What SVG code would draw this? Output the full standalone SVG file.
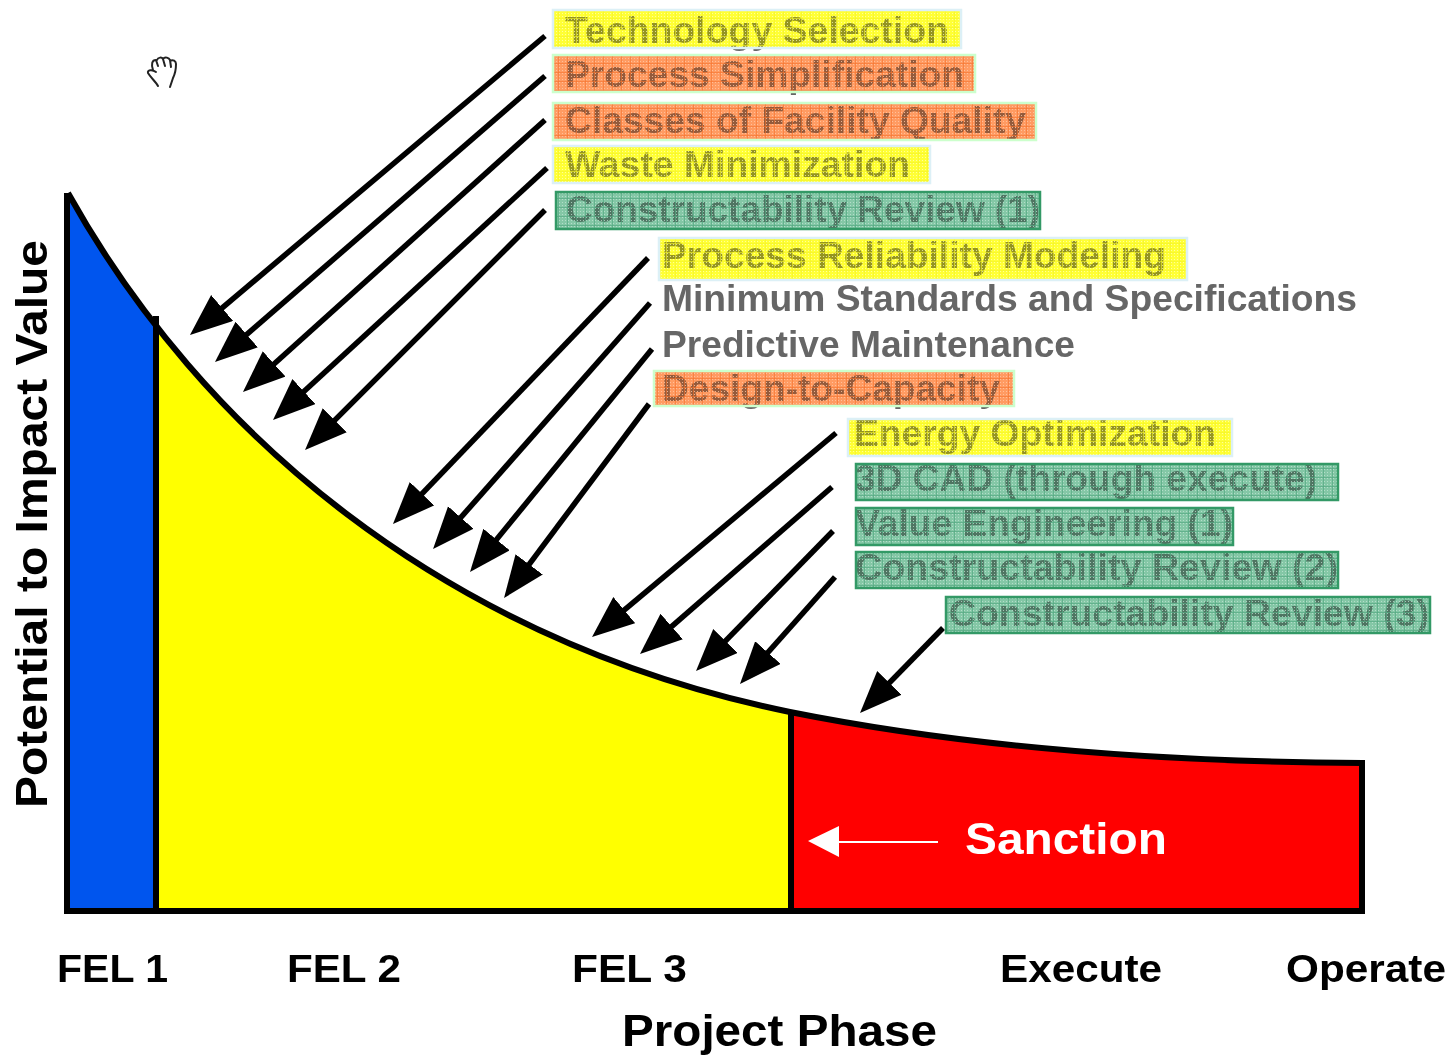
<svg xmlns="http://www.w3.org/2000/svg" width="1449" height="1056" viewBox="0 0 1449 1056">
<style>
text{font-family:"Liberation Sans",Arial,sans-serif;font-weight:bold}
.l{font-size:36px;fill:#666}
.ax{font-size:39px;fill:#000}
.base{mix-blend-mode:multiply;stroke:none}
.y{fill:#ffff30}.o{fill:#ff9a5c}.g{fill:#7fc4a2}
.pat{stroke-width:2.5}
.py{fill:url(#gy);stroke:#dcf0f6}
.po{fill:url(#go);stroke:#ccffcc}
.pg{fill:url(#gg);stroke:#339966}
.c line{stroke:#000;stroke-width:5.5;marker-end:url(#ah)}
.edge{fill:none;stroke:#000;stroke-width:6;stroke-linejoin:miter}
</style>
<defs>
<marker id="ah" markerUnits="userSpaceOnUse" markerWidth="46" markerHeight="36" refX="20" refY="17" orient="auto"><path d="M0 0L42 17L0 34Z" fill="#000"/></marker>
<pattern id="gy" width="9" height="9" patternUnits="userSpaceOnUse"><path d="M1 1h1v1h-1zM4 1h1v1h-1zM7 1h1v1h-1zM1 4h1v1h-1zM4 4h1v1h-1zM7 4h1v1h-1zM1 7h1v1h-1zM4 7h1v1h-1zM7 7h1v1h-1z" fill="#fff" fill-opacity=".7"/><path d="M0 .5H9M.5 0V9" stroke="#eeee20" stroke-opacity=".6"/><rect width="9" height="9" fill="#ffff40" fill-opacity=".3"/></pattern>
<pattern id="go" width="9" height="9" patternUnits="userSpaceOnUse"><path d="M1 1h1v1h-1zM4 1h1v1h-1zM7 1h1v1h-1zM1 4h1v1h-1zM4 4h1v1h-1zM7 4h1v1h-1zM1 7h1v1h-1zM4 7h1v1h-1zM7 7h1v1h-1z" fill="#ffd8c0" fill-opacity=".8"/><path d="M0 .5H9M.5 0V9" stroke="#f06010" stroke-opacity=".6"/><rect width="9" height="9" fill="#ffa070" fill-opacity=".3"/></pattern>
<pattern id="gg" width="9" height="9" patternUnits="userSpaceOnUse"><path d="M1 1h1v1h-1zM4 1h1v1h-1zM7 1h1v1h-1zM1 4h1v1h-1zM4 4h1v1h-1zM7 4h1v1h-1zM1 7h1v1h-1zM4 7h1v1h-1zM7 7h1v1h-1z" fill="#e0f4ea" fill-opacity=".7"/><path d="M0 .5H9M.5 0V9" stroke="#3d9a70" stroke-opacity=".7"/><rect width="9" height="9" fill="#8fd0b0" fill-opacity=".3"/></pattern>
<clipPath id="area"><path d="M68 193C200 430 440 640 790 712C980 750 1180 762 1362 763V911H68Z"/></clipPath>
</defs>
<rect width="1449" height="1056" fill="#fff"/>

<g id="chart">
<g clip-path="url(#area)">
<rect x="68" y="190" width="88" height="725" fill="#0055ee"/>
<rect x="156" y="190" width="635" height="725" fill="#ffff00"/>
<rect x="791" y="190" width="575" height="725" fill="#ff0000"/>
</g>
<path class="edge" d="M68 193C200 430 440 640 790 712C980 750 1180 762 1362 763V911H67V193"/>
<path class="edge" d="M156 316V911M791 712V911"/>
</g>

<g id="hand" fill="none" stroke="#222" stroke-width="2" stroke-linecap="round" stroke-linejoin="round">
<path d="M158 86C156 82 151 78 148 73C147 70 152 69 156 72M153 70C151 64 152 60 156 60L158 66M157 60C158 57 162 57 163 59L165 66M163 59C165 56 169 58 170 60L171 67M170 61C173 59 176 61 176 64C176 70 175 74 173 78C172 81 171 84 170 87"/>
</g>

<g id="connectors" class="c">
<line x1="545" y1="36" x2="206.8" y2="320.8"/>
<line x1="545" y1="76" x2="231.6" y2="347.6"/>
<line x1="545" y1="120" x2="259.3" y2="377.3"/>
<line x1="547" y1="168" x2="289.2" y2="405.1"/>
<line x1="545" y1="210" x2="320.6" y2="434.4"/>
<line x1="648" y1="258" x2="408.2" y2="508.1"/>
<line x1="650" y1="303" x2="447.6" y2="532.5"/>
<line x1="652" y1="349" x2="483.9" y2="555"/>
<line x1="649" y1="404" x2="517.2" y2="580.4"/>
<line x1="836" y1="433" x2="608.9" y2="622.9"/>
<line x1="832" y1="487" x2="656.6" y2="639.6"/>
<line x1="833" y1="531" x2="711.4" y2="655.3"/>
<line x1="835" y1="577" x2="754.6" y2="667.5"/>
<line x1="943" y1="628" x2="875.4" y2="697.2"/>
</g>

<g id="n-tech"><text class="l" x="565" y="43" textLength="384" lengthAdjust="spacingAndGlyphs">Technology Selection</text><rect class="base y" x="553" y="10" width="408" height="38"/><rect class="pat py" x="553" y="10" width="408" height="38"/></g>
<g id="n-simpl"><text class="l" x="565" y="87" textLength="399" lengthAdjust="spacingAndGlyphs">Process Simplification</text><rect class="base o" x="553" y="55" width="422" height="37"/><rect class="pat po" x="553" y="55" width="422" height="37"/></g>
<g id="n-classes"><text class="l" x="565" y="133" textLength="461" lengthAdjust="spacingAndGlyphs">Classes of Facility Quality</text><rect class="base o" x="553" y="103" width="483" height="37"/><rect class="pat po" x="553" y="103" width="483" height="37"/></g>
<g id="n-waste"><text class="l" x="565" y="177" textLength="345" lengthAdjust="spacingAndGlyphs">Waste Minimization</text><rect class="base y" x="553" y="146" width="377" height="37"/><rect class="pat py" x="553" y="146" width="377" height="37"/></g>
<g id="n-cr1"><text class="l" x="566" y="222" textLength="474" lengthAdjust="spacingAndGlyphs">Constructability Review (1)</text><rect class="base g" x="556" y="192" width="484" height="37"/><rect class="pat pg" x="556" y="192" width="484" height="37"/></g>
<g id="n-prm"><text class="l" x="662" y="268" textLength="504" lengthAdjust="spacingAndGlyphs">Process Reliability Modeling</text><rect class="base y" x="659" y="238" width="528" height="42"/><rect class="pat py" x="659" y="238" width="528" height="42"/></g>
<g id="n-min"><text class="l" x="662" y="311" textLength="695" lengthAdjust="spacingAndGlyphs">Minimum Standards and Specifications</text></g>
<g id="n-pred"><text class="l" x="662" y="357" textLength="413" lengthAdjust="spacingAndGlyphs">Predictive Maintenance</text></g>
<g id="n-dtc"><text class="l" x="662" y="401" textLength="338" lengthAdjust="spacingAndGlyphs">Design-to-Capacity</text><rect class="base o" x="654" y="371" width="360" height="35"/><rect class="pat po" x="654" y="371" width="360" height="35"/></g>
<g id="n-energy"><text class="l" x="854" y="446" textLength="362" lengthAdjust="spacingAndGlyphs">Energy Optimization</text><rect class="base y" x="848" y="419" width="384" height="37"/><rect class="pat py" x="848" y="419" width="384" height="37"/></g>
<g id="n-cad"><text class="l" x="855" y="491" textLength="462" lengthAdjust="spacingAndGlyphs">3D CAD (through execute)</text><rect class="base g" x="856" y="464" width="482" height="36"/><rect class="pat pg" x="856" y="464" width="482" height="36"/></g>
<g id="n-ve"><text class="l" x="855" y="536" textLength="378" lengthAdjust="spacingAndGlyphs">Value Engineering (1)</text><rect class="base g" x="856" y="508" width="377" height="37"/><rect class="pat pg" x="856" y="508" width="377" height="37"/></g>
<g id="n-cr2"><text class="l" x="855" y="580" textLength="483" lengthAdjust="spacingAndGlyphs">Constructability Review (2)</text><rect class="base g" x="856" y="552" width="482" height="36"/><rect class="pat pg" x="856" y="552" width="482" height="36"/></g>
<g id="n-cr3"><text class="l" x="949" y="626" textLength="480" lengthAdjust="spacingAndGlyphs">Constructability Review (3)</text><rect class="base g" x="946" y="597" width="484" height="36"/><rect class="pat pg" x="946" y="597" width="484" height="36"/></g>

<g id="sanction">
<path d="M808 841L839 826V857Z" fill="#fff"/><path d="M835 842H938" stroke="#fff" stroke-width="2"/>
<text x="965" y="854" font-size="45" fill="#fff" textLength="202" lengthAdjust="spacingAndGlyphs">Sanction</text>
</g>

<g id="axis-labels">
<text class="ax" x="57" y="982" textLength="111" lengthAdjust="spacingAndGlyphs">FEL 1</text>
<text class="ax" x="287" y="982" textLength="114" lengthAdjust="spacingAndGlyphs">FEL 2</text>
<text class="ax" x="572" y="982" textLength="115" lengthAdjust="spacingAndGlyphs">FEL 3</text>
<text class="ax" x="1000" y="982" textLength="162" lengthAdjust="spacingAndGlyphs">Execute</text>
<text class="ax" x="1286" y="982" textLength="160" lengthAdjust="spacingAndGlyphs">Operate</text>
<text x="622" y="1046" font-size="44" textLength="315" lengthAdjust="spacingAndGlyphs">Project Phase</text>
<text transform="translate(47 808) rotate(-90)" font-size="44" textLength="568" lengthAdjust="spacingAndGlyphs">Potential to Impact Value</text>
</g>
</svg>
